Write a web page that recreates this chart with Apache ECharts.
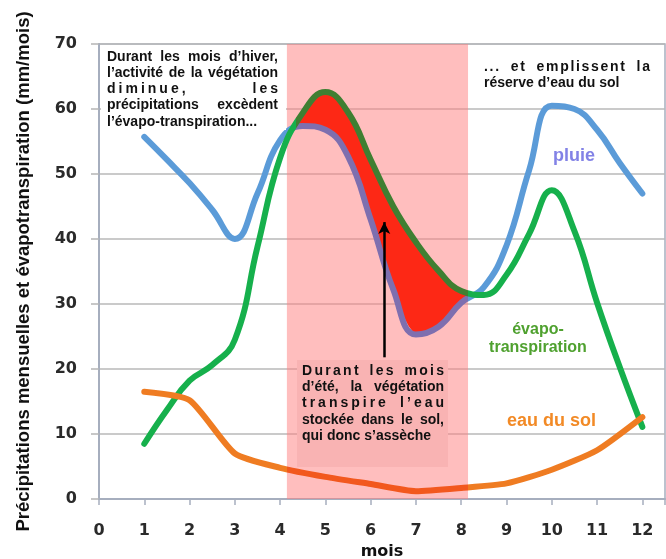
<!DOCTYPE html>
<html>
<head>
<meta charset="utf-8">
<script src="https://cdn.jsdelivr.net/npm/echarts@6/dist/echarts.min.js"></script>
<style>
  html, body { margin: 0; padding: 0; background: #fff; }
  #chart { width: 666px; height: 559px; }
</style>
</head>
<body>
<div id="chart"></div>
<script>
// valeurs (mm/mois)
const months = [1, 1.5, 2, 2.5, 3, 3.5, 4, 4.5, 5, 5.5, 6, 6.5, 7, 7.5, 8, 8.5, 9, 9.5, 10, 10.5, 11, 11.5, 12]
const pluie = [55.7, 52.2, 48.6, 44.5, 40, 47, 55.2, 57.4, 56.8, 52.7, 43, 32.2, 25.3, 26.5, 30.2, 32.6, 39, 50.6, 60.5, 60, 56.8, 51.7, 47]
const evapo = [8.5, 13.7, 18.2, 20.6, 24.5, 38.8, 52.5, 59.4, 62.6, 59.5, 52.2, 45, 39.5, 35.1, 32, 31.4, 34.5, 40.8, 47.5, 41.2, 30.2, 20.3, 11.1]
const solMonths = [1, 2, 3, 4, 5, 6, 7, 8, 9, 10, 11, 12]
const eauSol = [16.5, 15.2, 7, 4.8, 3.4, 2.3, 1.2, 1.7, 2.4, 4.5, 7.5, 12.6]
// zone rouge : évapo-transpiration au-dessus de la pluie
const deficitMonths = [4.3, 4.5, 5, 5.5, 6, 6.5, 7, 7.5, 8, 8.15]
const deficitTop = [57.6, 59.4, 62.6, 59.5, 52.2, 45, 39.5, 35.1, 32, 31.2]
const deficitBottom = [57.6, 57.4, 56.8, 52.7, 43, 32.2, 25.3, 26.5, 30.2, 31.2]
const xTicks = [0, 1, 2, 3, 4, 5, 6, 7, 8, 9, 10, 11, 12]
const yTicks = [0, 10, 20, 30, 40, 50, 60, 70]

const bandRange = [4.15, 8.15]

const blue = '#5B9BD8'
const purple = '#7E6FAF'
const green = '#16B04C'
const darkGreen = '#3F7F32'
const orange = '#EF7C22'
const redOrange = '#F2581E'

const ctx = document.createElement('canvas').getContext('2d')
const txtFont = 'bold 14px "Liberation Sans", Arial, sans-serif'

function textLine (str, x, y, width, ls, justify) {
  ctx.font = txtFont
  let els = []
  if (!justify) {
    els.push({ type: 'text', x: x, y: y, z: 20, style: { text: str, font: txtFont, fill: '#111', verticalAlign: 'middle' } })
    return els
  }
  let words = str.split(' ')
  let wordW = words.map(w => {
    let s = 0
    for (let ch of w) s += ctx.measureText(ch).width
    return ls ? s + ls * (w.length - 1) : ctx.measureText(w).width
  })
  let total = wordW.reduce((a, b) => a + b, 0)
  let gap = words.length > 1 ? (width - total) / (words.length - 1) : 0
  let cx = x
  words.forEach((w, i) => {
    if (!ls) {
      els.push({ type: 'text', x: cx, y: y, z: 20, style: { text: w, font: txtFont, fill: '#111', verticalAlign: 'middle' } })
    } else {
      let px = cx
      for (let ch of w) {
        els.push({ type: 'text', x: px, y: y, z: 20, style: { text: ch, font: txtFont, fill: '#111', verticalAlign: 'middle' } })
        px += ctx.measureText(ch).width + ls
      }
    }
    cx += wordW[i] + gap
  })
  return els
}

function block (lines, x, y0, width, lh) {
  let out = []
  lines.forEach((l, i) => {
    out = out.concat(textLine(l[0], x, y0 + i * lh, width, l[1], l[2]))
  })
  return out
}

let graphics = [
  { type: 'rect', shape: { x: 101, y: 46, width: 185, height: 84 }, z: 5, style: { fill: '#fff' } },
  { type: 'rect', shape: { x: 297, y: 360, width: 151, height: 107 }, z: 5, style: { fill: '#F9B3B3' } },
  { type: 'text', x: 553, y: 156, z: 20, style: { text: 'pluie', font: 'bold 18px "Liberation Sans", Arial', fill: '#8282E6', verticalAlign: 'middle' } },
  { type: 'text', x: 538, y: 339, z: 20, style: { text: 'évapo-\ntranspiration', font: 'bold 16px "Liberation Sans", Arial', fill: '#4FA12F', align: 'center', verticalAlign: 'middle', lineHeight: 18 } },
  { type: 'text', x: 507, y: 421, z: 20, style: { text: 'eau du sol', font: 'bold 18px "Liberation Sans", Arial', fill: '#F28A26', verticalAlign: 'middle' } }
]
graphics = graphics
  .concat(block([
    ['Durant les mois d’hiver,', 0, true],
    ['l’activité de la végétation', 0, true],
    ['diminue, les', 3, true],
    ['précipitations excèdent', 0, true],
    ['l’évapo-transpiration...', 0, false]
  ], 107, 57, 171, 16.2))
  .concat(block([
    ['... et emplissent la', 1.7, true],
    ['réserve d’eau du sol', 0, false]
  ], 484, 67, 166, 16.2))
  .concat(block([
    ['Durant les mois', 2.3, true],
    ['d’été, la végétation', 0, true],
    ['transpire l’eau', 3, true],
    ['stockée dans le sol,', 0, true],
    ['qui donc s’assèche', 0, false]
  ], 302, 371, 142, 16.3))

const axisColor = '#A6AEBE'
const labelStyle = { fontFamily: 'DejaVu Sans', fontWeight: 'bold', fontSize: 16, color: '#2a2a2a' }

let options = {
  animation: false,
  grid: {
    left: 99,
    right: 1,
    top: 44,
    bottom: 60,
    outerBoundsMode: 'none',
    show: true,
    borderColor: axisColor,
    borderWidth: 1.5
  },
  xAxis: {
    type: 'value',
    min: 0,
    max: 12.5,
    interval: 1,
    name: 'mois',
    nameLocation: 'middle',
    nameGap: 38,
    nameTextStyle: { fontFamily: 'DejaVu Sans', fontWeight: 'bold', fontSize: 16, color: '#111' },
    axisLine: { lineStyle: { color: axisColor, width: 2 } },
    axisTick: { length: 6, lineStyle: { color: axisColor, width: 1.5 } },
    splitLine: { show: false },
    axisLabel: Object.assign({
      margin: 24,
      formatter: v => xTicks.indexOf(v) >= 0 ? String(v) : ''
    }, labelStyle)
  },
  yAxis: {
    type: 'value',
    min: yTicks[0],
    max: yTicks[yTicks.length - 1],
    interval: 10,
    name: 'Précipitations mensuelles et évapotranspiration (mm/mois)',
    nameLocation: 'middle',
    nameGap: 66,
    nameTextStyle: { fontFamily: 'Liberation Sans', fontWeight: 'bold', fontSize: 18.5, color: '#111' },
    axisLine: { show: true, lineStyle: { color: axisColor, width: 2 } },
    axisTick: { show: true, length: 8, lineStyle: { color: '#B5B5B5', width: 1.5 } },
    splitLine: { lineStyle: { color: '#B9B9B9', width: 1.5 } },
    axisLabel: Object.assign({ margin: 22 }, labelStyle)
  },
  visualMap: [
    {
      type: 'piecewise', show: false, seriesIndex: 1, dimension: 0,
      pieces: [{ lt: 4.3, color: blue }, { gte: 4.3, lte: 8.15, color: purple }, { gt: 8.15, color: blue }]
    },
    {
      type: 'piecewise', show: false, seriesIndex: 2, dimension: 0,
      pieces: [{ lt: 4.35, color: green }, { gte: 4.35, lte: 8.15, color: darkGreen }, { gt: 8.15, color: green }]
    },
    {
      type: 'piecewise', show: false, seriesIndex: 3, dimension: 0,
      pieces: [{ lt: bandRange[0], color: orange }, { gte: bandRange[0], lte: bandRange[1], color: redOrange }, { gt: bandRange[1], color: orange }]
    }
  ],
  series: [
    {
      name: 'deficit',
      type: 'custom',
      z: 2,
      data: deficitMonths.map((m, i) => [m, deficitTop[i], deficitBottom[i]]),
      encode: { x: 0, y: [1, 2] },
      renderItem: (params, api) => {
        if (params.dataIndex !== 0) return null
        let top = deficitMonths.map((m, i) => api.coord([m, deficitTop[i]]))
        let bottom = deficitMonths.map((m, i) => api.coord([m, deficitBottom[i]])).reverse()
        return {
          type: 'polygon',
          shape: { points: top.concat(bottom), smooth: 0.35 },
          style: { fill: '#FD2815' }
        }
      },
      markArea: {
        silent: true,
        z: 1,
        itemStyle: { color: 'rgba(255,125,125,0.5)' },
        data: [[{ xAxis: bandRange[0], yAxis: 0 }, { xAxis: bandRange[1], yAxis: 70 }]]
      },
      markLine: {
        silent: true,
        z: 8,
        symbol: ['none', 'arrow'],
        symbolSize: [9, 12],
        label: { show: false },
        lineStyle: { color: '#000', width: 2.5, type: 'solid' },
        data: [[{ coord: [6.3, 21.8] }, { coord: [6.3, 42.6] }]]
      }
    },
    {
      name: 'pluie',
      type: 'line',
      z: 3,
      smooth: 0.45,
      symbol: 'none',
      lineStyle: { width: 6, cap: 'round' },
      data: months.map((m, i) => [m, pluie[i]])
    },
    {
      name: 'évapo-transpiration',
      type: 'line',
      z: 3,
      smooth: 0.45,
      symbol: 'none',
      lineStyle: { width: 6, cap: 'round' },
      data: months.map((m, i) => [m, evapo[i]])
    },
    {
      name: 'eau du sol',
      type: 'line',
      z: 3,
      smooth: 0.2,
      symbol: 'none',
      lineStyle: { width: 6, cap: 'round' },
      data: solMonths.map((m, i) => [m, eauSol[i]])
    }
  ],
  graphic: graphics
}

let myChart = echarts.init(document.getElementById('chart'))
myChart.setOption(options)
</script>
</body>
</html>
